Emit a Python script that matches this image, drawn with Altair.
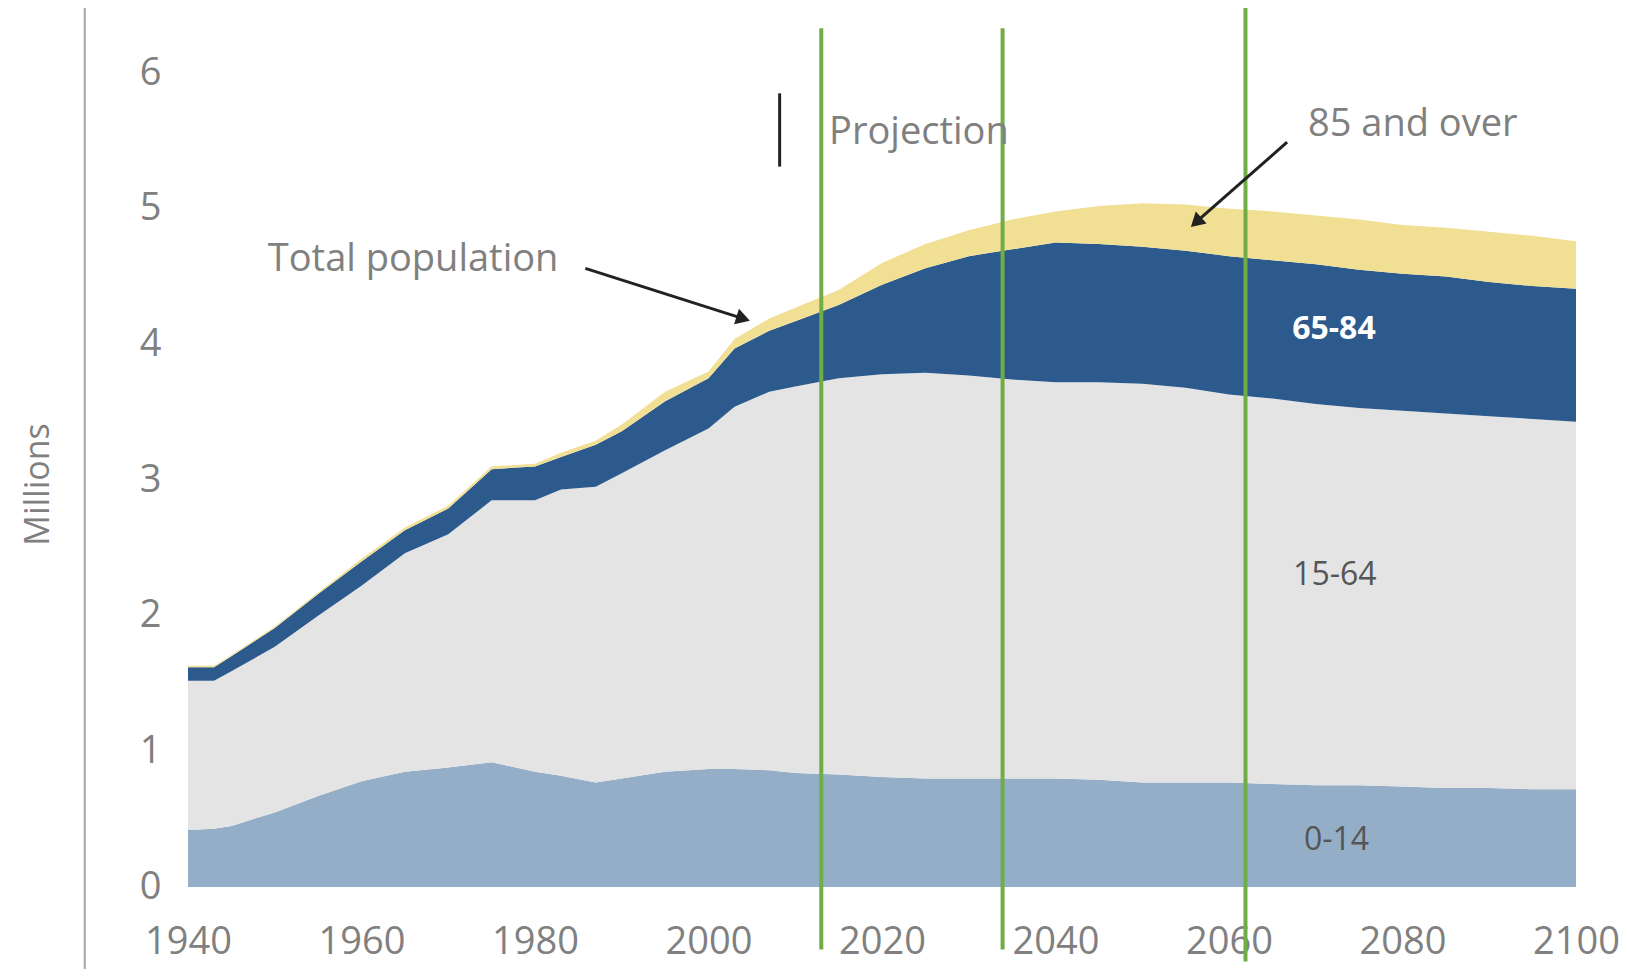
import altair as alt
import pandas as pd

# ---- data (millions) ----
years = [1940, 1943, 1945, 1950, 1955, 1960, 1965, 1970, 1975, 1980, 1983, 1987,
         1990, 1995, 2000, 2003, 2007, 2010, 2015, 2020, 2025, 2030, 2035, 2040,
         2045, 2050, 2055, 2060, 2065, 2070, 2075, 2080, 2085, 2090, 2095, 2100]
age_0_14 = [0.42, 0.43, 0.45, 0.55, 0.67, 0.78, 0.85, 0.88, 0.92, 0.85, 0.82, 0.77,
            0.80, 0.85, 0.87, 0.87, 0.86, 0.84, 0.83, 0.81, 0.80, 0.80, 0.80, 0.80,
            0.79, 0.77, 0.77, 0.77, 0.76, 0.75, 0.75, 0.74, 0.73, 0.73, 0.72, 0.72]
age_15_64 = [1.10, 1.09, 1.14, 1.22, 1.33, 1.44, 1.61, 1.72, 1.93, 2.00, 2.11, 2.18,
             2.25, 2.37, 2.51, 2.67, 2.79, 2.85, 2.92, 2.97, 2.99, 2.97, 2.94, 2.92,
             2.93, 2.94, 2.91, 2.86, 2.84, 2.81, 2.78, 2.77, 2.76, 2.74, 2.73, 2.71]
age_65_84 = [0.10, 0.10, 0.11, 0.14, 0.16, 0.18, 0.17, 0.19, 0.23, 0.25, 0.24, 0.31,
             0.31, 0.36, 0.37, 0.43, 0.45, 0.48, 0.54, 0.66, 0.77, 0.88, 0.96, 1.03,
             1.02, 1.01, 1.01, 1.02, 1.02, 1.03, 1.02, 1.01, 1.01, 0.99, 0.98, 0.98]
age_85_plus = [0.01, 0.01, 0.01, 0.01, 0.01, 0.02, 0.02, 0.02, 0.02, 0.02, 0.03, 0.03,
               0.05, 0.07, 0.05, 0.07, 0.09, 0.10, 0.11, 0.16, 0.18, 0.19, 0.22, 0.23,
               0.28, 0.32, 0.34, 0.35, 0.36, 0.36, 0.37, 0.36, 0.36, 0.37, 0.37, 0.35]

groups = ["0-14", "15-64", "65-84", "85 and over"]
group_colors = ["#94AEC8", "#E4E4E5", "#2C5A8C", "#F1DF94"]

x_ticks = [1940, 1960, 1980, 2000, 2020, 2040, 2060, 2080, 2100]
y_ticks = [0, 1, 2, 3, 4, 5, 6]

green_line_years = [2013.0, 2033.9, 2061.9]
green_line_tops = [6.33, 6.33, 6.50]
green_line_bottoms = [-0.46, -0.46, -0.55]

projection_year = 2008.2

FONT = "Open Sans"
GRAY = "#808080"

rows = []
for i, y in enumerate(years):
    for k, (g, vals) in enumerate(zip(groups, [age_0_14, age_15_64, age_65_84, age_85_plus])):
        rows.append({"year": y, "group": g, "value": vals[i], "ord": k})
df = pd.DataFrame(rows)

xscale = alt.Scale(domain=[1940, 2100], nice=False, zero=False)
yscale = alt.Scale(domain=[0, 6], nice=False)

areas = alt.Chart(df).mark_area(interpolate="linear").encode(
    x=alt.X("year:Q", scale=xscale,
            axis=alt.Axis(values=x_ticks, format="d", domain=False, ticks=False, grid=False,
                          labelFontSize=38, labelColor=GRAY, labelFont=FONT, labelPadding=36,
                          labelFlush=False, labelOverlap=False, labelBound=False, title=None)),
    y=alt.Y("value:Q", stack="zero", scale=yscale,
            axis=alt.Axis(values=y_ticks, format="d", domain=False, ticks=False, grid=False,
                          labelFontSize=38, labelColor=GRAY, labelFont=FONT, labelPadding=27,
                          title="Millions", titleFontSize=34, titleColor=GRAY, titleFont=FONT,
                          titleFontWeight="normal", titleX=-150, titleY=411,
                          titleBaseline="middle", titleAlign="center", titleAngle=-90)),
    color=alt.Color("group:N", scale=alt.Scale(domain=groups, range=group_colors), legend=None),
    order=alt.Order("ord:Q", sort="ascending"),
)

# left vertical frame line
frame_df = pd.DataFrame({"x": [1928.1], "y": [-0.66], "y2": [6.52]})
frame = alt.Chart(frame_df).mark_rule(color="#A6A6A6", strokeWidth=2).encode(
    x="x:Q", y="y:Q", y2="y2:Q")

# green marker lines
green_df = pd.DataFrame({"x": green_line_years, "y": green_line_bottoms, "y2": green_line_tops})
green = alt.Chart(green_df).mark_rule(color="#70AD47", strokeWidth=4).encode(
    x="x:Q", y="y:Q", y2="y2:Q")

# projection marker
proj_df = pd.DataFrame({"x": [projection_year], "y": [5.31], "y2": [5.85]})
proj = alt.Chart(proj_df).mark_rule(color="#222222", strokeWidth=3).encode(
    x="x:Q", y="y:Q", y2="y2:Q")

# gray annotation texts
ann_df = pd.DataFrame({
    "x": [1949.2, 2013.9, 2069.1],
    "y": [4.62, 5.56, 5.62],
    "t": ["Total population", "Projection", "85 and over"],
})
ann = alt.Chart(ann_df).mark_text(font=FONT, fontSize=38, color=GRAY, align="left",
                                  baseline="middle").encode(x="x:Q", y="y:Q", text="t:N")

# band labels
band_df = pd.DataFrame({"x": [2072.2, 2072.4], "y": [2.30, 0.35], "t": ["15-64", "0-14"]})
band = alt.Chart(band_df).mark_text(font=FONT, fontSize=32, color="#555555", align="center",
                                    baseline="middle").encode(x="x:Q", y="y:Q", text="t:N")
band2_df = pd.DataFrame({"x": [2072.1], "y": [4.11], "t": ["65-84"]})
band2 = alt.Chart(band2_df).mark_text(font=FONT, fontSize=32, fontWeight="bold", color="white",
                                      align="center", baseline="middle").encode(
    x="x:Q", y="y:Q", text="t:N")

# arrows
arrow_df = pd.DataFrame({
    "x": [1985.8, 2004.0, 2066.7, 2056.2],
    "y": [4.56, 4.19, 5.49, 4.90],
    "a": ["tp", "tp", "85", "85"],
    "o": [0, 1, 0, 1],
})
arrow_lines = alt.Chart(arrow_df).mark_line(color="#222222", strokeWidth=3).encode(
    x="x:Q", y="y:Q", detail="a:N", order="o:Q")
head_df = pd.DataFrame({"x": [2004.0, 2056.2], "y": [4.19, 4.90], "ang": [17.5, 137.8]})
heads = alt.Chart(head_df).mark_point(shape="triangle-right", filled=True, size=260,
                                      color="#222222", opacity=1).encode(
    x="x:Q", y="y:Q", angle=alt.Angle("ang:Q", scale=None))

chart = alt.layer(areas, frame, green, proj, ann, band, band2, arrow_lines, heads).properties(
    width=1388, height=814,
    background="white",
    autosize=alt.AutoSizeParams(type="none"),
    padding={"left": 180, "top": 65, "right": 46, "bottom": 82},
).configure_view(strokeWidth=0, stroke="transparent")

chart.save("out.html", embed_options={"renderer": "svg", "actions": False})
